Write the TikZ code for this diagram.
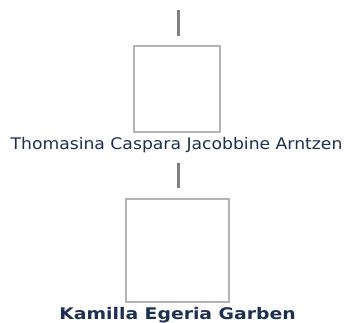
\documentclass[tikz,border=0pt]{standalone}
\usepackage{fontspec}
\setmainfont{DejaVu Sans}
\definecolor{namecol}{HTML}{1E2F52}
\definecolor{boxcol}{HTML}{B4B4B4}
\definecolor{stubcol}{HTML}{808080}
\begin{document}
\begin{tikzpicture}[x=1pt,y=-1pt,
  photo/.style={draw=boxcol,line width=2pt,fill=white,rectangle,inner sep=0pt},
  stub/.style={draw=stubcol,line width=3pt},
  namelbl/.style={text=namecol,font=\fontsize{16}{18}\selectfont,inner sep=0pt,anchor=base}]
\useasboundingbox (0,0) rectangle (346,323);
\coordinate (s1a) at (178.5,10);
\coordinate (s1b) at (178.5,36);
\node[photo,minimum width=86pt,minimum height=86pt] (box1) at (177,89) {};
\node[namelbl] (name1) at (176.5,149.5) {\scalebox{1.075}[1]{Thomasina Caspara Jacobbine Arntzen}};
\coordinate (s2a) at (178.5,163);
\coordinate (s2b) at (178.5,188);
\node[photo,minimum width=103pt,minimum height=103pt] (box2) at (177.5,250.5) {};
\node[namelbl,font=\fontsize{16}{18}\selectfont\bfseries] (name2) at (177.5,319.5) {\scalebox{1.175}[1]{Kamilla Egeria Garben}};
\draw[stub] (s1a) -- (s1b);
\draw[stub] (s2a) -- (s2b);
\end{tikzpicture}
\end{document}
